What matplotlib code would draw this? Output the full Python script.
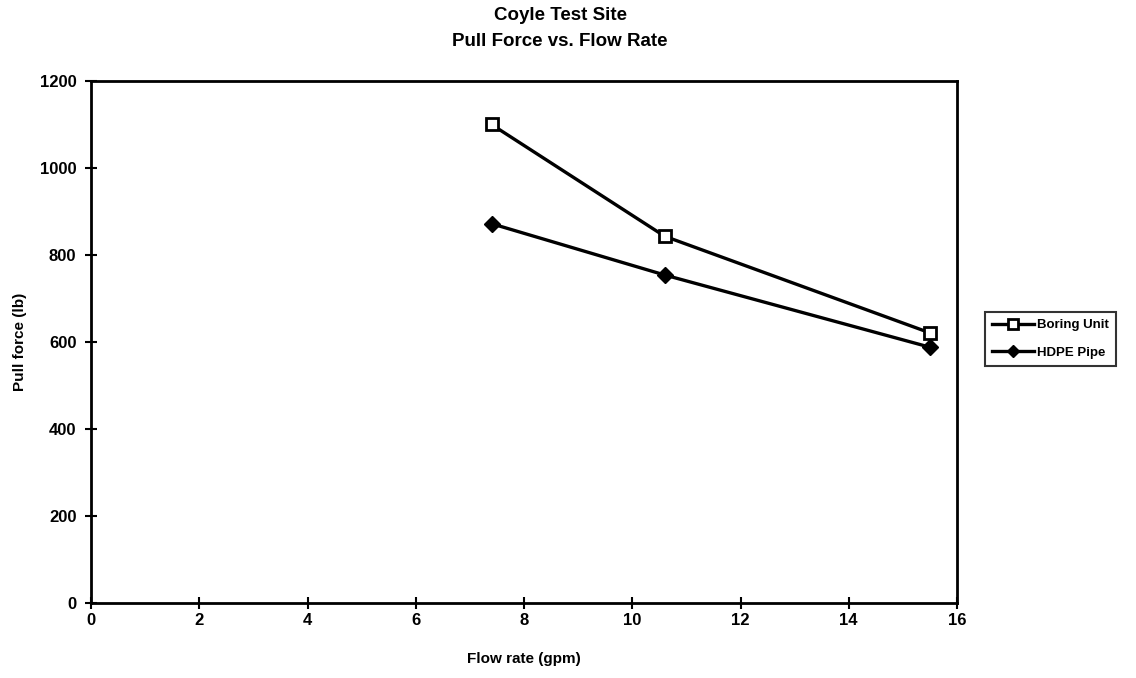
import matplotlib
matplotlib.use("Agg")
import matplotlib.pyplot as plt

plt.rcParams['font.family'] = ['Liberation Sans', 'DejaVu Sans']
plt.rcParams['font.weight'] = 'bold'

# Flow rate (gpm) and measured pull forces (lb)
flow_rate = [7.4, 10.6, 15.5]
boring_unit = [1100, 843, 621]
hdpe_pipe = [872, 754, 588]

series_names = ["Boring Unit", "HDPE Pipe"]
x_ticks = [0, 2, 4, 6, 8, 10, 12, 14, 16]
y_ticks = [0, 200, 400, 600, 800, 1000, 1200]

fig = plt.figure(figsize=(11.36, 6.78), dpi=100)
ax = fig.add_axes([91 / 1136, 1 - 603 / 678, (957 - 91) / 1136, (603 - 81) / 678])

ax.plot(flow_rate, boring_unit, color='black', lw=2.4, marker='s', ms=9,
        mfc='white', mec='black', mew=2.0, label=series_names[0])
ax.plot(flow_rate, hdpe_pipe, color='black', lw=2.4, marker='D', ms=8,
        mfc='black', mec='black', label=series_names[1])

ax.set_xlim(0, 16)
ax.set_ylim(0, 1200)
ax.set_xticks(x_ticks)
ax.set_yticks(y_ticks)
ax.tick_params(direction='inout', length=9, width=1.5, labelsize=12)
ax.tick_params(axis='x', pad=3)
ax.tick_params(axis='y', pad=6)
for lbl in ax.get_xticklabels() + ax.get_yticklabels():
    lbl.set_fontweight('bold')
for s in ax.spines.values():
    s.set_linewidth(2.0)
    s.set_color('black')

ax.set_xlabel("Flow rate (gpm)", fontsize=11, fontweight='bold', labelpad=17)
ax.set_ylabel("Pull force (lb)", fontsize=11, fontweight='bold', labelpad=9)

fig.text(560 / 1136, 1 - 16 / 678, "Coyle Test Site", ha='center', va='center',
         fontsize=13.5, fontweight='bold')
fig.text(560 / 1136, 1 - 42 / 678, "Pull Force vs. Flow Rate", ha='center', va='center',
         fontsize=13.5, fontweight='bold')

leg = fig.legend(loc='upper left', bbox_to_anchor=(985 / 1136, 1 - 312 / 678),
                 fontsize=9.5, frameon=True, fancybox=False, edgecolor='black',
                 handlelength=3.2, handletextpad=0.2, borderpad=0.55,
                 labelspacing=1.15, borderaxespad=0, markerscale=0.8)
leg.get_frame().set_linewidth(1.5)

fig.savefig("out.png", dpi=100)
